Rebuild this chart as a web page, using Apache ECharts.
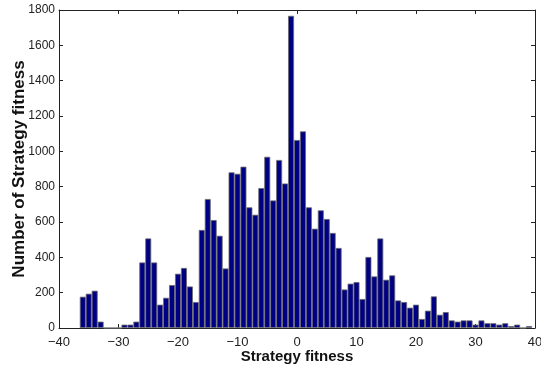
<!DOCTYPE html>
<html>
<head>
<meta charset="utf-8">
<script src="https://cdn.jsdelivr.net/npm/echarts@6/dist/echarts.min.js"></script>
<style>html,body{margin:0;padding:0;background:#fff}#c{width:541px;height:367px}</style>
</head>
<body>
<div id="c"></div>
<script>
const binCenters = [-36,-35,-34,-33,-32,-31,-30,-29,-28,-27,-26,-25,-24,-23,-22,-21,-20,-19,-18,-17,-16,-15,-14,-13,-12,-11,-10,-9,-8,-7,-6,-5,-4,-3,-2,-1,0,1,2,3,4,5,6,7,8,9,10,11,12,13,14,15,16,17,18,19,20,21,22,23,24,25,26,27,28,29,30,31,32,33,34,35,36,37,38,39];
const counts = [177,194,211,36,0,0,0,19,19,36,371,507,371,132,171,243,307,340,235,147,555,730,611,522,337,881,873,913,683,641,792,969,722,951,818,1767,1064,1113,683,562,666,617,538,453,218,251,260,164,402,292,507,273,298,156,147,115,132,51,98,179,75,90,43,36,43,43,19,43,27,27,19,27,11,19,0,11];
const xTicks = {min: -40, max: 40, interval: 10};
const yTicks = {min: 0, max: 1800, interval: 200};
const xTitle = 'Strategy fitness';
const yTitle = 'Number of Strategy fitness';

const chart = echarts.init(document.getElementById('c'), null, {renderer: 'canvas'});
const fmt = v => String(v).replace('-', '\u2212');
const lineStyle = {color: '#222', width: 1};
const font = 'Liberation Sans';
chart.setOption({
  animation: false,
  grid: {left: 59, right: 6, top: 10, bottom: 39, show: false, containLabel: false, outerBoundsMode: 'none'},
  xAxis: [{
    type: 'value', min: xTicks.min, max: xTicks.max, interval: xTicks.interval,
    axisLine: {show: true, lineStyle, onZero: false},
    axisTick: {show: true, inside: true, length: 4, lineStyle},
    axisLabel: {formatter: fmt, color: '#222', fontSize: 13, fontFamily: font, margin: 8},
    splitLine: {show: false},
    name: xTitle, nameLocation: 'middle', nameGap: 21, nameMoveOverlap: false,
    nameTextStyle: {fontWeight: 'bold', fontSize: 15, fontFamily: font, color: '#111'}
  }, {
    type: 'value', position: 'top', min: xTicks.min, max: xTicks.max, interval: xTicks.interval,
    axisLine: {show: true, lineStyle, onZero: false},
    axisTick: {show: true, inside: true, length: 4, lineStyle},
    axisLabel: {show: false}, splitLine: {show: false}
  }],
  yAxis: [{
    type: 'value', min: yTicks.min, max: yTicks.max, interval: yTicks.interval,
    axisLine: {show: true, lineStyle, onZero: false},
    axisTick: {show: true, inside: true, length: 4, lineStyle},
    axisLabel: {formatter: v => String(v), color: '#222', fontSize: 12, fontFamily: font, margin: 4},
    splitLine: {show: false},
    name: yTitle, nameLocation: 'middle', nameGap: 31, nameMoveOverlap: false,
    nameTextStyle: {fontWeight: 'bold', fontSize: 17, fontFamily: font, color: '#111'}
  }, {
    type: 'value', position: 'right', min: yTicks.min, max: yTicks.max, interval: yTicks.interval,
    axisLine: {show: true, lineStyle, onZero: false},
    axisTick: {show: true, inside: true, length: 4, lineStyle},
    axisLabel: {show: false}, splitLine: {show: false}
  }],
  series: [{
    type: 'bar',
    xAxisIndex: 0, yAxisIndex: 0,
    data: binCenters.map((x, i) => [x, counts[i]]),
    barWidth: '100%',
    itemStyle: {color: '#000085', borderColor: '#6a6a6a', borderWidth: 0.8}
  }]
});
</script>
</body>
</html>
